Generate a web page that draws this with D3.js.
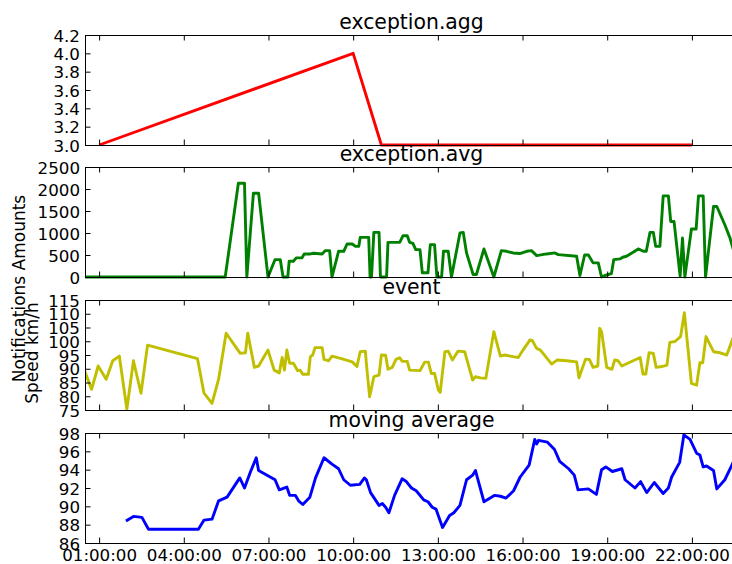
<!DOCTYPE html>
<html>
<head>
<meta charset="utf-8">
<script src="https://cdn.jsdelivr.net/npm/d3@7"></script>
<style>
  html, body { margin: 0; padding: 0; background: #fff; }
  svg { display: block; font-family: "DejaVu Sans", sans-serif; }
</style>
</head>
<body>
<svg id="chart" width="732" height="564"></svg>
<script>
// ---- shared time axis ----
const xDomain = ["00:30", "23:38"];
const xTickLabels = ["01:00:00", "04:00:00", "07:00:00", "10:00:00",
                     "13:00:00", "16:00:00", "19:00:00", "22:00:00"];

// ---- exception.agg ----
const aggTimes  = ["01:00", "10:00", "11:00", "22:00"];
const aggValues = [3.0, 4.0, 3.0, 3.0];
const aggTicks  = [3.0, 3.2, 3.4, 3.6, 3.8, 4.0, 4.2];

// ---- exception.avg ----
const avgTimes = ["00:30","05:28","05:56","06:09","06:14","06:28","06:39","06:59","07:14","07:25",
  "07:31","07:41","07:44","07:53","07:59","08:11","08:16","08:29","08:36","08:54",
  "09:01","09:10","09:15","09:29","09:40","09:47","09:58","10:05","10:12","10:15",
  "10:33","10:36","10:39","10:44","10:55","10:58","11:11","11:14","11:39","11:46",
  "11:55","12:00","12:07","12:13","12:22","12:27","12:39","12:44","12:53","12:58",
  "13:08","13:12","13:22","13:29","13:47","13:54","14:01","14:15","14:22","14:38",
  "14:59","15:15","15:26","15:40","15:54","16:09","16:19","16:30","16:51","17:09",
  "17:16","17:55","18:02","18:12","18:20","18:30","18:41","18:48","18:55","19:09",
  "19:14","19:27","19:33","19:41","19:55","20:06","20:17","20:23","20:31","20:38",
  "20:43","20:52","20:59","21:10","21:15","21:22","21:35","21:40","21:45","21:59",
  "22:09","22:14","22:24","22:29","22:46","22:53","23:10","23:21","23:38"];
const avgValues = [0,0,2130,2130,0,1905,1905,0,396,396,
  0,0,358,358,434,434,524,524,540,524,
  600,600,0,584,584,750,750,697,697,900,
  900,0,0,1014,1014,0,0,788,788,939,
  939,788,765,622,622,95,95,735,735,0,
  0,584,584,0,1000,1014,547,57,57,638,
  0,600,584,547,533,584,600,486,524,547,
  509,471,34,501,501,321,321,0,34,79,
  396,411,449,471,562,638,584,584,1014,1014,
  697,697,1844,1844,1263,1263,19,886,0,1090,
  1090,1844,1844,0,1602,1602,1188,886,250];
const avgTicks = [0, 500, 1000, 1500, 2000, 2500];

// ---- event ----
const eventTimes = ["00:30","00:44","00:58","01:15","01:29","01:43","01:59","02:13","02:29","02:43",
  "04:29","04:43","05:00","05:14","05:30","06:00","06:11","06:16","06:30","06:39",
  "06:59","07:12","07:23","07:29","07:34","07:39","07:45","07:53","08:02","08:07",
  "08:13","08:25","08:29","08:34","08:39","08:54","08:58","09:08","09:15","09:33",
  "09:58","10:08","10:15","10:26","10:28","10:35","10:44","10:55","11:00","11:09",
  "11:14","11:23","11:31","11:39","11:44","11:55","12:00","12:22","12:32","12:40",
  "12:46","12:53","13:01","13:05","13:15","13:22","13:31","13:43","13:57","14:14",
  "14:20","14:31","14:42","14:59","15:13","15:22","15:40","15:51","16:01","16:16",
  "16:21","16:30","16:38","17:02","17:14","17:34","17:55","18:00","18:14","18:22",
  "18:30","18:40","18:44","18:48","18:59","19:10","19:16","19:23","19:31","20:10",
  "20:16","20:22","20:29","20:38","20:44","20:56","21:07","21:13","21:24","21:36",
  "21:44","21:59","22:10","22:17","22:23","22:30","22:46","23:00","23:14","23:27","23:38"];
const eventValues = [88.9,82.5,91,86.2,92.9,94.6,75.3,92.9,81.1,98.6,
  93.7,81.1,77.4,86.2,102.9,95.6,95.8,102.9,90.5,91,
  96.8,89.5,88.5,94.1,89.5,96.8,92,92,89.3,89.5,
  88,88,94.4,95,97.7,97.7,93.4,92.9,94.6,93.8,
  92.5,90.8,96.2,96.4,92,79.8,87.1,87.7,95,94.9,
  89.8,90.5,93.4,94,92.7,92.7,89.5,89.3,92.4,92.4,
  88.3,88.3,82.3,81.4,96.2,96.4,93.2,96.4,96.2,85.9,
  87.1,86.7,86.5,103.5,94.6,95,94.4,94.1,96.8,100.5,
  100.2,97.4,96.8,91.7,93.2,92.9,92.5,86.7,93.5,93.4,
  90.5,91,104.7,103.5,90.5,89.8,93.2,92.9,91,94.1,
  88.1,88.1,95.8,95.6,90.5,90.8,91.3,99.6,99.9,101.7,
  110.4,84.7,84,92.2,92.2,101.7,96.2,95.8,95,101,103];
const eventTicks = [75, 80, 85, 90, 95, 100, 105, 110, 115];

// ---- moving average ----
const maTimes = ["01:57","02:13","02:31","02:45","04:31","04:43","05:00","05:14","05:32","05:59",
  "06:09","06:22","06:34","06:39","06:57","07:14","07:23","07:39","07:45","07:57",
  "08:04","08:13","08:28","08:40","08:58","09:15","09:29","09:40","09:54","10:14",
  "10:24","10:28","10:37","10:55","11:02","11:09","11:16","11:28","11:44","11:53",
  "12:04","12:14","12:30","12:39","12:48","12:56","13:10","13:25","13:34","13:47",
  "14:01","14:14","14:20","14:38","15:01","15:13","15:25","15:41","15:55","16:14",
  "16:26","16:30","16:34","16:53","17:08","17:19","17:38","17:50","17:58","18:20",
  "18:37","18:48","18:57","19:11","19:31","19:38","19:59","20:11","20:24","20:40",
  "20:59","21:10","21:17","21:34","21:43","21:56","22:10","22:17","22:24","22:31",
  "22:46","22:53","23:10","23:27","23:38"];
const maValues = [88.4,88.9,88.8,87.5,87.5,88.5,88.6,90.6,91.0,93.1,
  92.0,93.8,95.3,93.9,93.4,92.9,91.8,92.1,91.2,91.2,
  90.6,90.2,91.0,93.1,95.3,94.6,94.1,92.9,92.3,92.4,
  93.1,92.9,91.5,90.1,90.3,89.9,89.3,91.2,93.0,92.7,
  92.0,91.7,90.7,90.5,89.9,89.7,87.7,89.0,89.3,90.1,
  92.9,93.4,93.9,90.5,91.2,91.1,90.9,91.7,93.2,94.5,
  97.3,96.8,97.2,97.0,96.2,94.9,94.1,93.4,91.8,91.9,
  91.3,94.0,94.3,93.8,94.1,92.9,92.0,92.7,91.5,92.6,
  91.4,92.0,93.2,94.8,97.8,97.3,95.8,95.6,94.3,94.4,
  93.9,91.9,92.9,94.7,96.2];
const maTicks = [86, 88, 90, 92, 94, 96, 98];

// ---- drawing ----
const svg = d3.select("#chart");
const parseHM = d3.timeParse("%H:%M");
const parseHMS = d3.timeParse("%H:%M:%S");
const plotLeft = 85, plotRight = 738, plotHeight = 110;

const x = d3.scaleTime().domain(xDomain.map(parseHM)).range([plotLeft, plotRight]);
const xTickValues = xTickLabels.map(parseHMS);

const panels = [
  { title: "exception.agg", times: aggTimes, values: aggValues, domain: [3.0, 4.2],
    ticks: aggTicks, fmt: d3.format(".1f"), color: "#ff0000", top: 35 },
  { title: "exception.avg", times: avgTimes, values: avgValues, domain: [0, 2500],
    ticks: avgTicks, fmt: d3.format("d"), color: "#008000", top: 167 },
  { title: "event", times: eventTimes, values: eventValues, domain: [75, 115],
    ticks: eventTicks, fmt: d3.format("d"), color: "#bfbf00", top: 300 },
  { title: "moving average", times: maTimes, values: maValues, domain: [86, 98],
    ticks: maTicks, fmt: d3.format("d"), color: "#0000ff", top: 433 }
];

const tickFont = "16.7px";
const tickLen = 5.5;

panels.forEach((p, i) => {
  const bottom = p.top + plotHeight;
  const y = d3.scaleLinear().domain(p.domain).range([bottom, p.top]);
  const g = svg.append("g").attr("class", "panel");

  // clip region for the series
  const clipId = "clip" + i;
  svg.append("clipPath").attr("id", clipId)
    .append("rect")
    .attr("x", plotLeft).attr("y", p.top - 3)
    .attr("width", plotRight - plotLeft).attr("height", plotHeight + 6);

  const pts = p.times.map((t, k) => ({ t: parseHM(t), v: p.values[k] }));
  const line = d3.line().x(d => x(d.t)).y(d => y(d.v));
  g.append("path")
    .datum(pts)
    .attr("clip-path", `url(#${clipId})`)
    .attr("fill", "none")
    .attr("stroke", p.color)
    .attr("stroke-width", 2.9)
    .attr("stroke-linejoin", "round")
    .attr("stroke-linecap", "butt")
    .attr("d", line);

  // left axis: inward ticks, labels outside
  const yAxis = d3.axisLeft(y).tickValues(p.ticks).tickFormat(p.fmt)
    .tickSizeInner(-tickLen).tickSizeOuter(0).tickPadding(5);
  const ya = g.append("g").attr("transform", `translate(${plotLeft},0)`).call(yAxis);
  ya.select(".domain").remove();
  ya.selectAll("line").attr("stroke", "#000").attr("stroke-width", 1);
  ya.selectAll("text").attr("fill", "#000").style("font-size", tickFont)
    .style("font-family", "'DejaVu Sans', sans-serif").attr("dy", "0.36em");

  // top axis: inward ticks only
  const xTop = d3.axisTop(x).tickValues(xTickValues).tickFormat("")
    .tickSizeInner(-tickLen).tickSizeOuter(0);
  const xt = g.append("g").attr("transform", `translate(0,${p.top})`).call(xTop);
  xt.select(".domain").remove();
  xt.selectAll("line").attr("stroke", "#000");

  // bottom axis: inward ticks, labels on last panel only
  const last = i === panels.length - 1;
  const xBot = d3.axisBottom(x).tickValues(xTickValues)
    .tickFormat(last ? d3.timeFormat("%H:%M:%S") : "")
    .tickSizeInner(-tickLen).tickSizeOuter(0);
  const xb = g.append("g").attr("transform", `translate(0,${bottom})`).call(xBot);
  xb.select(".domain").remove();
  xb.selectAll("line").attr("stroke", "#000");
  xb.selectAll("text").attr("fill", "#000").style("font-size", tickFont)
    .style("font-family", "'DejaVu Sans', sans-serif")
    .attr("dy", null).attr("y", 18);

  // frame
  g.append("rect")
    .attr("x", plotLeft + 0.5).attr("y", p.top + 0.5)
    .attr("width", plotRight - plotLeft).attr("height", plotHeight)
    .attr("fill", "none").attr("stroke", "#000").attr("stroke-width", 1);

  // title
  g.append("text")
    .attr("x", (plotLeft + plotRight) / 2).attr("y", p.top - 6.5)
    .attr("text-anchor", "middle")
    .style("font-size", "20.4px").attr("fill", "#000")
    .text(p.title);
});

// axis labels
svg.append("text")
  .attr("transform", "translate(25,288.5) rotate(-90)")
  .attr("text-anchor", "middle").style("font-size", "17px").attr("fill", "#000")
  .text("Notifications Amounts");
svg.append("text")
  .attr("transform", "translate(37.5,353) rotate(-90)")
  .attr("text-anchor", "middle").style("font-size", "17px").attr("fill", "#000")
  .text("Speed km/h");
</script>
</body>
</html>
